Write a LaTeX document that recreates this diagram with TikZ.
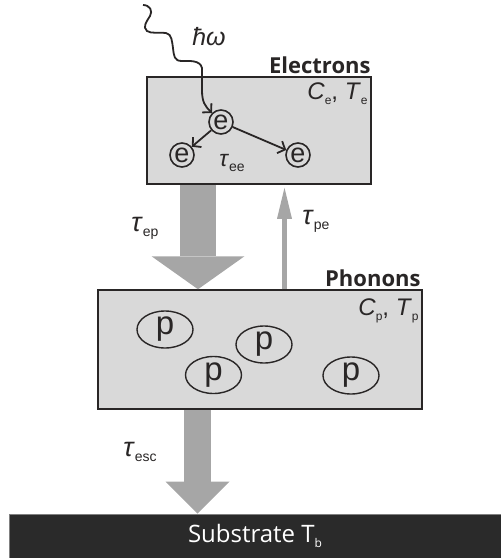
\documentclass[tikz,border=0pt]{standalone}
\usepackage{fontspec}
\setmainfont{Liberation Sans}
\newfontfamily\labelfont{Open Sans}
\usetikzlibrary{arrows.meta,shapes.geometric}

\definecolor{boxgray}{rgb}{0.851,0.851,0.851}
\definecolor{boxline}{rgb}{0.16,0.15,0.15}
\definecolor{arrowgray}{rgb}{0.651,0.651,0.651}
\definecolor{substratedark}{rgb}{0.165,0.165,0.165}

\newcommand\setfs[1]{\fontsize{#1}{#1}\selectfont}
\newcommand\tausub[2]{\setfs{#1}\textit{τ}\raisebox{-5pt}{\setfs{14}#2}}
\newcommand\varsub[2]{\textit{#1}\raisebox{-5pt}{\setfs{12}#2}}

\tikzset{
  layer/.style={draw=boxline, fill=boxgray, line width=1.5pt, inner sep=0pt},
  heading/.style={font=\labelfont\bfseries\setfs{22}, text=boxline, inner sep=0pt},
  state/.style={font=\setfs{24}, text=boxline, inner sep=0pt},
  ecirc/.style={circle, draw=boxline, line width=1.6pt, minimum size=24pt, inner sep=0pt, font=\setfs{27}, text=boxline},
  pellip/.style={ellipse, draw=boxline, line width=1.4pt, minimum width=56pt, minimum height=37pt, inner sep=0pt, font=\setfs{33}, text=boxline},
  earrow/.style={draw=boxline, line width=1.8pt, -{Straight Barb[length=6pt,width=13pt]}},
  flow/.style={draw=arrowgray}
}

\begin{document}
\begin{tikzpicture}[x=1pt,y=-1pt]
\useasboundingbox (0,0) rectangle (501,558);
\node[layer, minimum width=224pt, minimum height=107pt] (elec) at (259,130.5) {};
\node[layer, minimum width=324pt, minimum height=119pt] (phon) at (260,349.5) {};
\node[fill=substratedark, draw=gray, line width=0.8pt, minimum width=492pt, minimum height=44pt, inner sep=0pt, text=white, font=\labelfont\setfs{24}] (sub) at (255,536) {Substrate T\raisebox{-5pt}{\setfs{12}b}};

\node[heading, anchor=base east] (elabel) at ([xshift=-1pt,yshift=3pt]elec.north east) {Electrons};
\node[heading, anchor=base east] (plabel) at ([xshift=-2pt,yshift=3pt]phon.north east) {Phonons};
\node[state, anchor=north east] (ete) at ([xshift=-4pt,yshift=-6pt]elec.north east) {\varsub{C}{e}, \varsub{T}{e}};
\node[state, anchor=north east] (ptp) at ([xshift=-4pt,yshift=-9pt]phon.north east) {\varsub{C}{p}, \varsub{T}{p}};

\node[ecirc] (e1) at (221,122) {e};
\node[ecirc] (e2) at (182,155) {e};
\node[ecirc] (e3) at (298,155) {e};
\node[inner sep=0pt, text=boxline] (tee) at (232,163) {\tausub{23}{ee}};
\draw[earrow] (e1) -- (e2);
\draw[earrow] (e1) -- (e3);

\coordinate (wstart) at (143,5);
\node[inner sep=0pt, text=boxline, font=\setfs{25}] (hw) at (209,37) {\textit{ħω}};
\draw[earrow] (wstart) .. controls (150,5) and (153,11) .. (150,16)
  .. controls (147,21) and (142,27) .. (147,31)
  .. controls (151,34) and (160,32) .. (166,33)
  .. controls (172,34) and (172,42) .. (173,48)
  .. controls (174,56) and (174,61) .. (182,61)
  .. controls (190,61) and (200,60) .. (202,68)
  -- (202,90) .. controls (202,102) and (205,106) .. (e1);

\node[pellip] (p1) at (165,329.5) {p};
\node[pellip] (p2) at (264,344.5) {p};
\node[pellip] (p3) at (213.5,375) {p};
\node[pellip] (p4) at (351,375.5) {p};

\draw[flow, line width=36pt, -{Triangle[length=33pt,width=93pt,line width=0pt]}] ([xshift=-61pt]elec.south) -- ([xshift=-62pt]phon.north);
\draw[flow, line width=5.5pt, -{Triangle[length=31pt,width=15pt,line width=0pt]}] ([xshift=24.5pt]phon.north) -- ([xshift=25.5pt,yshift=-3pt]elec.south);
\draw[flow, line width=27pt, -{Triangle[length=32pt,width=64pt,line width=0pt]}] ([xshift=-62.5pt]phon.south) -- ([xshift=-57.5pt]sub.north);

\node[inner sep=0pt, text=boxline] (tep) at (145,228) {\tausub{27}{ep}};
\node[inner sep=0pt, text=boxline] (tpe) at (316,221) {\tausub{27}{pe}};
\node[inner sep=0pt, text=boxline] (tesc) at (140,452) {\tausub{27}{esc}};
\end{tikzpicture}
\end{document}
